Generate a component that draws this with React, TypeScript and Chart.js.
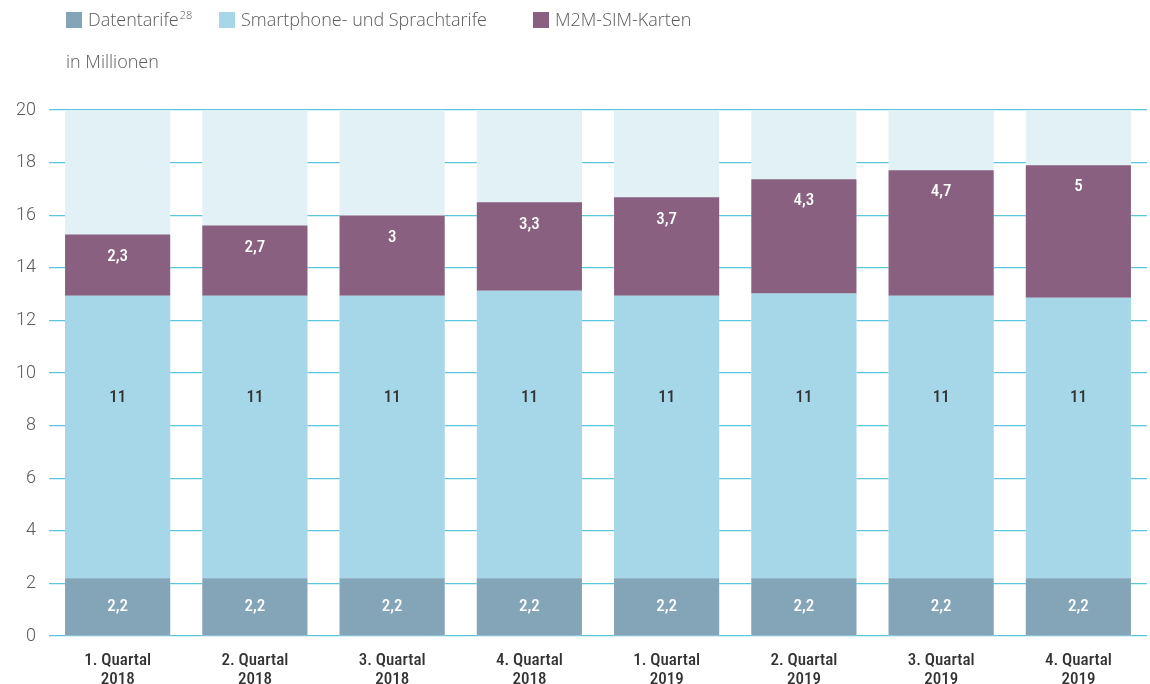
import React, { useEffect, useRef } from "react";
import { Chart, registerables } from "chart.js";

Chart.register(...registerables);

const categories: string[][] = [
  ["1. Quartal", "2018"],
  ["2. Quartal", "2018"],
  ["3. Quartal", "2018"],
  ["4. Quartal", "2018"],
  ["1. Quartal", "2019"],
  ["2. Quartal", "2019"],
  ["3. Quartal", "2019"],
  ["4. Quartal", "2019"],
];

const datentarife = [2.2, 2.2, 2.2, 2.2, 2.2, 2.2, 2.2, 2.2];
const smartphone = [10.74, 10.74, 10.74, 10.93, 10.74, 10.82, 10.74, 10.66];
const m2m = [2.33, 2.67, 3.05, 3.36, 3.74, 4.35, 4.77, 5.04];
const track = [20, 20, 20, 20, 20, 20, 20, 20];

const datentarifeLabels = ["2,2", "2,2", "2,2", "2,2", "2,2", "2,2", "2,2", "2,2"];
const smartphoneLabels = ["11", "11", "11", "11", "11", "11", "11", "11"];
const m2mLabels = ["2,3", "2,7", "3", "3,3", "3,7", "4,3", "4,7", "5"];

const yTicks = [0, 2, 4, 6, 8, 10, 12, 14, 16, 18, 20];

const seriesNames = ["Datentarife", "Smartphone- und Sprachtarife", "M2M-SIM-Karten"];
const seriesColors = ["#84a4b8", "#a5d7e8", "#89607f"];
const trackColor = "#e2f1f6";
const gridColor = "#5cc6dc";
const unitLabel = "in Millionen";

const condensed = "'Roboto Condensed', 'Liberation Sans Narrow', 'DejaVu Sans Condensed', Roboto, sans-serif";
const lightFont = "'Open Sans', Roboto, sans-serif";

const legendPlugin = {
  id: "customLegend",
  afterDraw(chart: any) {
    const ctx = chart.ctx;
    ctx.save();
    const squares = [66, 219, 533];
    ctx.textBaseline = "alphabetic";
    ctx.textAlign = "left";
    seriesNames.forEach((name, i) => {
      ctx.fillStyle = seriesColors[i];
      ctx.fillRect(squares[i], 12, 16, 16);
      ctx.fillStyle = "#5a5a5a";
      ctx.font = `300 18px ${lightFont}`;
      ctx.fillText(name, squares[i] + 22, 26);
      if (i === 0) {
        const w = ctx.measureText(name).width;
        ctx.font = `300 11px ${lightFont}`;
        ctx.fillText("28", squares[i] + 22 + w + 1, 19);
      }
    });
    ctx.font = `300 18px ${lightFont}`;
    ctx.fillStyle = "#5a5a5a";
    ctx.fillText(unitLabel, 66, 68);
    ctx.restore();
  },
};

const valueLabelPlugin = {
  id: "valueLabels",
  afterDraw(chart: any) {
    const ctx = chart.ctx;
    ctx.save();
    ctx.textAlign = "center";
    ctx.textBaseline = "middle";
    ctx.font = `500 17px ${condensed}`;
    const sets: [number, string[], string][] = [
      [1, datentarifeLabels, "#ffffff"],
      [2, smartphoneLabels, "#333333"],
      [3, m2mLabels, "#ffffff"],
    ];
    sets.forEach(([di, labels, color]) => {
      const meta = chart.getDatasetMeta(di);
      meta.data.forEach((el: any, i: number) => {
        const top = Math.min(el.y, el.base);
        const bottom = Math.max(el.y, el.base);
        let y = (top + bottom) / 2;
        if (di === 2) y = bottom - 180;
        if (di === 3) y = top + 22;
        ctx.fillStyle = color;
        ctx.fillText(labels[i], el.x, y);
      });
    });
    ctx.restore();
  },
};

export default function App() {
  const ref = useRef<HTMLCanvasElement | null>(null);

  useEffect(() => {
    if (!ref.current) return;
    const common = { barPercentage: 0.766, categoryPercentage: 1 };
    const chart = new Chart(ref.current, {
      type: "bar",
      data: {
        labels: categories,
        datasets: [
          {
            label: "track",
            data: track,
            backgroundColor: trackColor,
            stack: "bg",
            grouped: false,
            order: 2,
            ...common,
          } as any,
          {
            label: seriesNames[0],
            data: datentarife,
            backgroundColor: seriesColors[0],
            stack: "main",
            order: 1,
            ...common,
          },
          {
            label: seriesNames[1],
            data: smartphone,
            backgroundColor: seriesColors[1],
            stack: "main",
            order: 1,
            ...common,
          },
          {
            label: seriesNames[2],
            data: m2m,
            backgroundColor: seriesColors[2],
            stack: "main",
            order: 1,
            ...common,
          },
        ],
      },
      options: {
        animation: false,
        responsive: false,
        maintainAspectRatio: false,
        layout: { padding: { top: 110, left: 0, right: 3, bottom: 0 } },
        plugins: {
          legend: { display: false },
          tooltip: { enabled: false },
        },
        scales: {
          x: {
            stacked: true,
            grid: { display: false },
            border: { display: false },
            ticks: {
              color: "#333333",
              font: { family: condensed, size: 17, weight: "500", lineHeight: 1.12 },
              padding: 7,
              maxRotation: 0,
              autoSkip: false,
            },
            afterFit(scale: any) {
              scale.height = 48;
            },
          },
          y: {
            stacked: true,
            min: 0,
            max: 20,
            z: 1,
            afterBuildTicks(scale: any) {
              scale.ticks = yTicks.map((v) => ({ value: v }));
            },
            grid: { color: gridColor, lineWidth: 1.2, drawTicks: false },
            border: { display: false },
            ticks: {
              color: "#5a5a5a",
              font: { family: "Roboto, sans-serif", size: 18, weight: "300" },
              padding: 13,
            },
            afterFit(scale: any) {
              scale.width = 49;
            },
          },
        },
      },
      plugins: [legendPlugin, valueLabelPlugin],
    });
    return () => chart.destroy();
  }, []);

  return (
    <div style={{ position: "absolute", left: 0, top: 0, width: 1150, height: 684 }}>
      <canvas ref={ref} width={1150} height={684} style={{ width: 1150, height: 684 }} />
    </div>
  );
}
